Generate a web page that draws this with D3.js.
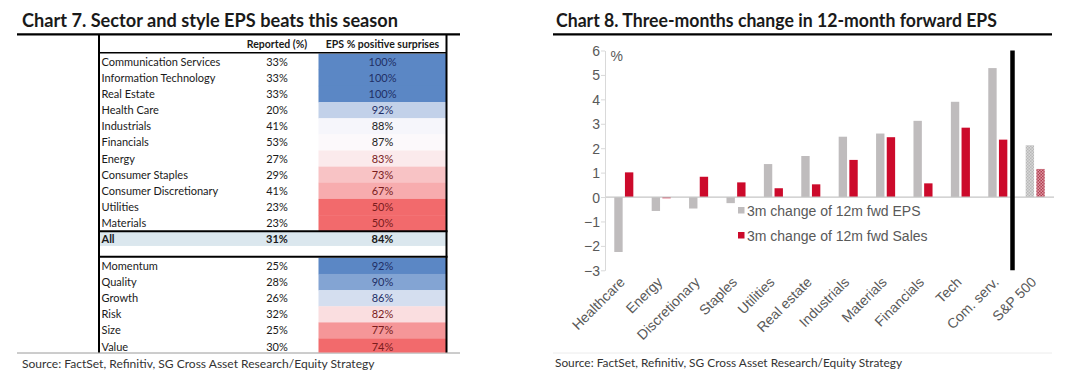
<!DOCTYPE html>
<html><head><meta charset="utf-8">
<script src="https://cdn.jsdelivr.net/npm/d3@7"></script>
<style>
html,body{margin:0;padding:0;background:#fff;}
svg{display:block;}
</style></head>
<body>
<svg id="c" width="1076" height="381"></svg>
<script>
// ---------- DATA ----------
const sectorNames = ["Communication Services","Information Technology","Real Estate","Health Care","Industrials","Financials","Energy","Consumer Staples","Consumer Discretionary","Utilities","Materials"];
const sectorReported = [33,33,33,20,41,53,27,29,41,23,23];
const sectorSurprise = [100,100,100,92,88,87,83,73,67,50,50];
const allLabel = "All";
const allReported = 31;
const allSurprise = 84;
const styleNames = ["Momentum","Quality","Growth","Risk","Size","Value"];
const styleReported = [25,28,26,32,25,30];
const styleSurprise = [92,90,86,82,77,74];
const tableHeaders = ["Reported (%)","EPS % positive surprises"];

const chartCats = ["Healthcare","Energy","Discretionary","Staples","Utilities","Real estate","Industrials","Materials","Financials","Tech","Com. serv.","S&P 500"];
const epsChange = [-2.25,-0.57,-0.47,-0.25,1.35,1.68,2.47,2.6,3.12,3.9,5.28,2.12];
const salesChange = [1.01,-0.05,0.83,0.6,0.36,0.52,1.52,2.45,0.56,2.84,2.35,1.15];
const yTicks = [-3,-2,-1,0,1,2,3,4,5,6];
const seriesNames = ["3m change of 12m fwd EPS","3m change of 12m fwd Sales"];

const title7 = "Chart 7. Sector and style EPS beats this season";
const title8 = "Chart 8. Three-months change in 12-month forward EPS";
const sourceText = "Source: FactSet, Refinitiv, SG Cross Asset Research/Equity Strategy";

// ---------- SETUP ----------
const svg = d3.select("#c");
const calibri = "Lato, 'Open Sans', sans-serif";
const arial = "'Liberation Sans', Arial, sans-serif";

function fitText(sel, w){
  const n = sel.node();
  const L = n.getComputedTextLength();
  const fs = parseFloat(sel.attr("font-size"));
  sel.attr("font-size", (fs * w / L).toFixed(2));
}

// Titles
svg.append("text").attr("x",22).attr("y",26.5).attr("font-family",calibri).attr("font-weight","bold").attr("font-size",18.5)
  .attr("textLength",376).attr("lengthAdjust","spacingAndGlyphs").attr("fill","#1a1a1a").text(title7);
svg.append("text").attr("x",556).attr("y",26.5).attr("font-family",calibri).attr("font-weight","bold").attr("font-size",18.5)
  .attr("textLength",441).attr("lengthAdjust","spacingAndGlyphs").attr("fill","#1a1a1a").text(title8);
svg.append("line").attr("x1",17).attr("x2",460).attr("y1",34.3).attr("y2",34.3).attr("stroke","#000").attr("stroke-width",2.2);
svg.append("line").attr("x1",553).attr("x2",1052).attr("y1",34.3).attr("y2",34.3).attr("stroke","#000").attr("stroke-width",2.2);

// Sources
svg.append("line").attr("x1",17).attr("x2",460).attr("y1",353).attr("y2",353).attr("stroke","#9a9a9a").attr("stroke-width",1);
svg.append("line").attr("x1",553).attr("x2",1052).attr("y1",353).attr("y2",353).attr("stroke","#ececec").attr("stroke-width",1);
const s1 = svg.append("text").attr("x",22).attr("y",368).attr("font-family",calibri).attr("font-size",13).attr("fill","#333").text(sourceText);
fitText(s1, 353);
const s2 = svg.append("text").attr("x",555).attr("y",367).attr("font-family",calibri).attr("font-size",13).attr("fill","#333").text(sourceText);
fitText(s2, 347);

// ---------- TABLE (Chart 7) ----------
const tL = 99, tR = 446.5, cellL = 318.5, repC = 277, epsC = 382.5, nameX = 101.5;
const rowH = 16.15;
const secTop = 53.6, styleTop = 257.8;
const tbl = svg.append("g");
const clip = svg.append("clipPath").attr("id","tclip");
clip.append("rect").attr("x",0).attr("y",0).attr("width",1076).attr("height",352.5);
tbl.attr("clip-path","url(#tclip)");

const secColor = d3.scaleLinear().domain([d3.min(sectorSurprise), d3.median(sectorSurprise)+0.5, d3.max(sectorSurprise)]).range(["#f26a6c","#fcfbfd","#5b87c5"]);
const styColor = d3.scaleLinear().domain([d3.min(styleSurprise), d3.median(styleSurprise), d3.max(styleSurprise)]).range(["#f26a6c","#fcfbfd","#5b87c5"]);
function txtColor(v, med){ return v > med+1 ? "#1f2f66" : (v < med-1 ? "#7a1c1c" : "#222"); }

function drawRows(names, rep, sur, top, cScale){
  const med = d3.median(sur);
  const rows = tbl.selectAll(null).data(names.map((n,i)=>({n, r:rep[i], s:sur[i], i}))).enter().append("g")
    .attr("transform", d=>`translate(0,${top + d.i*rowH})`);
  rows.append("rect").attr("x",cellL).attr("y",0).attr("width",tR-cellL).attr("height",rowH+0.3).attr("fill",d=>cScale(d.s));
  rows.append("text").attr("x",nameX).attr("y",rowH/2+4).attr("font-family",calibri).attr("font-size",11).attr("fill","#1a1a1a").text(d=>d.n);
  rows.append("text").attr("x",repC).attr("y",rowH/2+4).attr("text-anchor","middle").attr("font-family",calibri).attr("font-size",11).attr("fill","#1a1a1a").text(d=>d.r+"%");
  rows.append("text").attr("x",epsC).attr("y",rowH/2+4).attr("text-anchor","middle").attr("font-family",calibri).attr("font-size",11).attr("fill",d=>txtColor(d.s,med)).text(d=>d.s+"%");
}
drawRows(sectorNames, sectorReported, sectorSurprise, secTop, secColor);
drawRows(styleNames, styleReported, styleSurprise, styleTop, styColor);

// Header
tbl.append("text").attr("x",repC).attr("y",48.3).attr("text-anchor","middle").attr("font-family",calibri).attr("font-weight","bold").attr("font-size",10.5).attr("fill","#1a1a1a").text(tableHeaders[0]);
tbl.append("text").attr("x",epsC).attr("y",48.3).attr("text-anchor","middle").attr("font-family",calibri).attr("font-weight","bold").attr("font-size",10.5).attr("fill","#1a1a1a").text(tableHeaders[1]);
tbl.append("line").attr("x1",tL).attr("x2",tR).attr("y1",52.8).attr("y2",52.8).attr("stroke","#000").attr("stroke-width",1.6);

// All row
const allTop = secTop + sectorNames.length*rowH;
tbl.append("rect").attr("x",tL).attr("y",allTop+0.5).attr("width",tR-tL).attr("height",14.2).attr("fill","#dbe7ee");
tbl.append("text").attr("x",nameX).attr("y",allTop+rowH/2+4).attr("font-family",calibri).attr("font-weight","bold").attr("font-size",11).attr("fill","#1a1a1a").text(allLabel);
tbl.append("text").attr("x",repC).attr("y",allTop+rowH/2+4).attr("text-anchor","middle").attr("font-family",calibri).attr("font-weight","bold").attr("font-size",11).attr("fill","#1a1a1a").text(allReported+"%");
tbl.append("text").attr("x",epsC).attr("y",allTop+rowH/2+4).attr("text-anchor","middle").attr("font-family",calibri).attr("font-weight","bold").attr("font-size",11).attr("fill","#1a1a1a").text(allSurprise+"%");
tbl.append("line").attr("x1",tL-1).attr("x2",tR+1).attr("y1",allTop).attr("y2",allTop).attr("stroke","#000").attr("stroke-width",2);
tbl.append("line").attr("x1",tL-1).attr("x2",tR+1).attr("y1",styleTop-1).attr("y2",styleTop-1).attr("stroke","#000").attr("stroke-width",2);
// borders
tbl.append("line").attr("x1",tL).attr("x2",tL).attr("y1",34).attr("y2",360).attr("stroke","#000").attr("stroke-width",2);
tbl.append("line").attr("x1",tR).attr("x2",tR).attr("y1",34).attr("y2",360).attr("stroke","#000").attr("stroke-width",2);

// ---------- BAR CHART (Chart 8) ----------
const y = d3.scaleLinear().domain([d3.min(yTicks), d3.max(yTicks)]).range([270.3, 50.5]);
const x0 = d3.scaleBand().domain(chartCats).range([605.1, 1053.9]);
const x1 = d3.scaleBand().domain(["eps","sales"]).range([0, x0.bandwidth()]).paddingInner(0.215).paddingOuter(0.86);

const defs = svg.append("defs");
const pg = defs.append("pattern").attr("id","pgrey").attr("width",3).attr("height",3).attr("patternUnits","userSpaceOnUse");
pg.append("rect").attr("width",3).attr("height",3).attr("fill","#e6e6e6");
pg.append("rect").attr("x",0).attr("y",0).attr("width",1.5).attr("height",1.5).attr("fill","#a9a9a9");
pg.append("rect").attr("x",1.5).attr("y",1.5).attr("width",1.5).attr("height",1.5).attr("fill","#a9a9a9");
const pr = defs.append("pattern").attr("id","pred").attr("width",3).attr("height",3).attr("patternUnits","userSpaceOnUse");
pr.append("rect").attr("width",3).attr("height",3).attr("fill","#f1c6cc");
pr.append("rect").attr("x",0).attr("y",0).attr("width",1.5).attr("height",1.5).attr("fill","#9e1028");
pr.append("rect").attr("x",1.5).attr("y",1.5).attr("width",1.5).attr("height",1.5).attr("fill","#9e1028");

const chart = svg.append("g");
const isLast = (i) => i === chartCats.length-1;
const bars = chart.selectAll("g.cat").data(chartCats.map((c,i)=>({c, e:epsChange[i], s:salesChange[i], i}))).enter().append("g")
  .attr("transform", d=>`translate(${x0(d.c)},0)`);
bars.append("rect").attr("x",x1("eps")).attr("width",x1.bandwidth())
  .attr("y",d=>y(Math.max(0,d.e))).attr("height",d=>Math.abs(y(d.e)-y(0)))
  .attr("fill",d=>isLast(d.i)?"url(#pgrey)":"#bfbcbd");
bars.append("rect").attr("x",x1("sales")).attr("width",x1.bandwidth())
  .attr("y",d=>y(Math.max(0,d.s))).attr("height",d=>Math.max(1.2,Math.abs(y(d.s)-y(0))))
  .attr("fill",d=>isLast(d.i)?"url(#pred)":"#cc0a2b");

// zero line
chart.append("line").attr("x1",605).attr("x2",1054).attr("y1",y(0)).attr("y2",y(0)).attr("stroke","#c6c6c6").attr("stroke-width",1.2);

// y axis
const yAxis = d3.axisLeft(y).tickValues(yTicks).tickSize(4).tickSizeOuter(0).tickPadding(1).tickFormat(d3.format("d"));
const ya = chart.append("g").attr("transform","translate(605,0)").call(yAxis);
ya.select(".domain").attr("stroke","#d9d9d9");
ya.selectAll(".tick line").attr("stroke","#d9d9d9");
ya.selectAll(".tick text").attr("font-family",arial).attr("font-size",14).attr("fill","#595959").attr("dy","0.36em");
chart.append("text").attr("x",610.5).attr("y",61).attr("font-family",arial).attr("font-size",14).attr("fill","#595959").text("%");

// divider line before S&P 500
chart.append("line").attr("x1",x0(chartCats[chartCats.length-1])-4).attr("x2",x0(chartCats[chartCats.length-1])-4)
  .attr("y1",y(6)).attr("y2",y(-3)).attr("stroke","#000").attr("stroke-width",4.5);

// x labels
chart.selectAll("text.xl").data(chartCats).enter().append("text")
  .attr("transform", d=>`translate(${x0(d)+x0.bandwidth()/2+2},${283}) rotate(-45)`)
  .attr("text-anchor","end").attr("font-family",arial).attr("font-size",14).attr("fill","#595959").text(d=>d);

// legend
const lg = chart.append("g").attr("transform","translate(738,207)");
const lgColors = ["#bfbcbd","#cc0a2b"];
seriesNames.forEach((n,i)=>{
  lg.append("rect").attr("x",0).attr("y",i*25).attr("width",6.5).attr("height",6.5).attr("fill",lgColors[i]);
  lg.append("text").attr("x",9).attr("y",i*25+9).attr("font-family",arial).attr("font-size",14).attr("fill","#595959").text(n);
});
</script>
</body></html>
